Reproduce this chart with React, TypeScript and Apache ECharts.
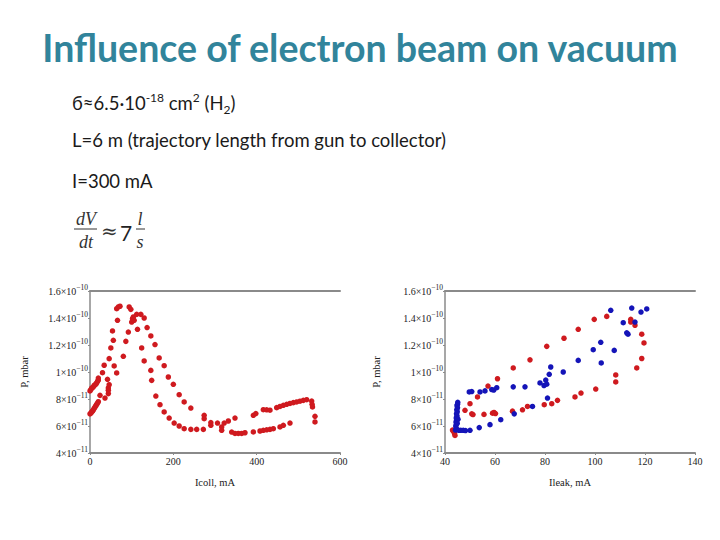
import React, { useEffect, useRef } from "react";
import * as echarts from "echarts";

const titleText = "Influence of electron beam on vacuum";
const lineL = "L=6 m (trajectory length from gun to collector)";
const lineI = "I=300 mA";

const yTicks = [4, 6, 8, 10, 12, 14, 16];
const yTickMantissa = ["4", "6", "8", "1", "1.2", "1.4", "1.6"];
const yTickExponent = ["−11", "−11", "−11", "−10", "−10", "−10", "−10"];
const leftXTicks = [0, 200, 400, 600];
const rightXTicks = [40, 60, 80, 100, 120, 140];

// pressure in units of 1e-11 mbar
const icollPressure: number[][] = [
  [0, 8.6], [2, 8.7], [4, 8.8], [6, 8.85], [8, 8.9], [10, 9.0], [12, 9.05], [14, 9.1], [16, 9.2], [18, 9.3], [20, 9.4], [20, 9.55],
  [0, 6.9], [2, 6.95], [4, 7.05], [6, 7.1], [8, 7.2], [10, 7.3], [12, 7.4], [14, 7.5], [16, 7.6], [18, 7.7], [20, 7.8],
  [24, 8.27], [36, 8.07], [30, 9.95], [34, 10.5], [44, 8.4], [44, 8.64], [44, 8.82], [46, 9.06], [42, 9.46], [46, 10.99],
  [50, 11.78], [56, 12.35], [54, 13.04], [58, 10.45], [64, 9.93], [66, 13.83], [64, 14.69], [68, 14.82], [72, 14.87],
  [80, 11.16], [86, 12.27], [92, 12.96], [94, 14.82], [98, 14.64], [100, 13.7], [102, 13.95], [104, 14.08], [106, 13.83],
  [112, 14.27], [114, 13.16], [122, 14.27], [124, 11.78], [130, 14.0], [130, 10.82], [137, 13.29], [146, 12.67],
  [146, 10.12], [148, 9.38], [156, 12.03], [158, 8.22], [166, 11.04], [168, 7.58], [178, 10.47], [178, 7.04],
  [188, 9.63], [190, 6.59], [200, 9.09], [202, 6.22], [214, 8.32], [214, 6.0], [226, 7.78], [226, 5.8], [242, 7.33],
  [242, 5.75], [256, 5.75], [272, 5.75], [274, 6.79], [274, 6.54], [290, 6.05], [290, 6.25], [306, 6.22], [316, 5.93],
  [316, 5.68], [322, 6.22], [332, 6.37], [348, 6.59],
  [340, 5.55], [348, 5.45], [356, 5.45], [364, 5.45], [372, 5.5], [392, 5.56], [408, 5.63], [416, 5.68], [424, 5.72],
  [432, 5.75], [440, 5.8], [456, 5.93], [464, 6.05], [480, 6.22],
  [392, 6.79], [398, 6.92], [416, 7.21], [424, 7.2], [432, 7.17], [448, 7.36], [456, 7.45], [464, 7.53], [472, 7.61],
  [480, 7.67], [488, 7.73], [496, 7.78], [504, 7.84], [512, 7.9], [520, 7.95], [532, 7.85], [533, 7.61], [534, 7.41],
  [540, 6.72], [540, 6.3],
];

const ileakRed: number[][] = [
  [43.3, 5.63], [43.8, 5.45], [44, 5.3], [43, 5.7], [48, 7.16], [50, 7.65], [50.7, 6.9], [51.2, 6.85], [53, 8.15],
  [55.6, 6.86], [57.2, 8.96], [59, 6.95], [59.6, 7.0], [60.2, 6.92], [61, 9.5], [67, 7.1], [67.3, 10.3], [71, 7.2],
  [73, 7.45], [74, 10.9], [79.7, 7.58], [80.7, 11.9], [82.7, 7.65], [85, 7.9], [87.6, 12.5], [92, 8.15], [93.3, 13.16],
  [94.4, 8.44], [99.7, 13.9], [100.3, 8.74], [104.7, 14.12], [108.3, 9.26], [108.3, 9.78], [114.3, 13.9], [114.3, 13.7],
  [116, 13.46], [118.7, 12.8], [119.6, 12.15], [118.7, 11.0], [116.7, 10.3],
];

const ileakBlue: number[][] = [
  [44.2, 5.7], [44.5, 5.85], [44.3, 6.0], [44.6, 6.15], [44.4, 6.3], [44.7, 6.45], [44.5, 6.6], [44.8, 6.75],
  [44.6, 6.9], [44.9, 7.05], [44.7, 7.2], [45, 7.35], [44.8, 7.5], [45, 7.62], [45.1, 7.75], [44.9, 6.2], [45.2, 6.5],
  [45.5, 5.68], [46.3, 5.68], [47.3, 5.68], [48.2, 5.66], [50, 5.68], [53.7, 5.88], [58, 6.1], [62.3, 6.47], [67.7, 6.9],
  [49.7, 8.52], [50.7, 8.55], [54, 8.52], [56, 8.6], [58.7, 8.7], [59.5, 8.66], [60.7, 8.84], [67.3, 8.9], [72, 8.9],
  [75, 7.45], [78, 9.19], [79.6, 9.0], [80.3, 9.4], [80.7, 9.1], [81.7, 9.83], [82.3, 10.37], [87.3, 10.0], [81, 8.07],
  [93.3, 10.86], [99.3, 11.65], [102.3, 12.2], [102.5, 10.67], [107.7, 11.6], [106.3, 14.57], [111.3, 13.65],
  [112.7, 12.9], [113.2, 12.8], [114.7, 14.74], [116, 13.7], [118.4, 14.44], [120.7, 14.67],
];

const RED = "#cf1a1f";
const BLUE = "#1414b8";
const AXIS = "#8a8a8a";
const SERIF = "'Liberation Serif', 'DejaVu Serif', serif";
const SANS = "Lato, 'Open Sans', sans-serif";

function tickLabel(v: number): string {
  const i = yTicks.indexOf(Math.round(v));
  return i >= 0 ? `{b|${yTickMantissa[i]}×10}{s|${yTickExponent[i]}}` : "";
}

function makeX(idx: number, min: number, max: number, interval: number, name: string) {
  return [
    {
      type: "value", gridIndex: idx, min, max, interval, position: "bottom",
      name, nameLocation: "middle", nameGap: 24,
      nameTextStyle: { fontFamily: SERIF, fontSize: 10.5, color: "#222" },
      axisLine: { show: true, lineStyle: { color: AXIS, width: 2 } },
      axisTick: { show: true, inside: false, length: 2, lineStyle: { color: AXIS } },
      axisLabel: { fontFamily: SERIF, fontSize: 10, color: "#222", margin: 3 },
      splitLine: { show: false },
    },
    {
      type: "value", gridIndex: idx, min, max, interval, position: "top",
      axisLine: { show: true, onZero: false, lineStyle: { color: AXIS, width: 2 } },
      axisTick: { show: false }, axisLabel: { show: false }, splitLine: { show: false },
    },
  ];
}

function makeY(idx: number, gap: number) {
  return {
    type: "value", gridIndex: idx, min: 4, max: 16, interval: 2,
    name: "P, mbar", nameLocation: "middle", nameGap: gap, nameRotate: 90,
    nameTextStyle: { fontFamily: SERIF, fontSize: 10.5, color: "#222" },
    axisLine: { show: true, lineStyle: { color: AXIS, width: 1.5 } },
    axisTick: { show: true, length: 2, lineStyle: { color: AXIS } },
    axisLabel: {
      fontFamily: SERIF, fontSize: 10, color: "#222", margin: 2, formatter: tickLabel,
      rich: {
        b: { fontFamily: SERIF, fontSize: 10, lineHeight: 15, color: "#222" },
        s: { fontFamily: SERIF, fontSize: 7.5, lineHeight: 8, verticalAlign: "top", color: "#222" },
      },
    },
    splitLine: { show: false },
  };
}

export default function App() {
  const ref = useRef<HTMLDivElement>(null);
  useEffect(() => {
    document.body.style.margin = "0";
    if (!ref.current) return;
    const chart = echarts.init(ref.current, undefined, { renderer: "svg" });
    const x0 = makeX(0, leftXTicks[0], leftXTicks[leftXTicks.length - 1], leftXTicks[1] - leftXTicks[0], "Icoll, mA");
    const x1 = makeX(1, rightXTicks[0], rightXTicks[rightXTicks.length - 1], rightXTicks[1] - rightXTicks[0], "Ileak, mA");
    const txt = "#1a1a1a";
    const mark = (data: number[][], color: string, xi: number, yi: number) => ({
      type: "scatter", xAxisIndex: xi, yAxisIndex: yi, data, symbolSize: 5.5,
      itemStyle: { color, opacity: 1 },
    });
    chart.setOption({
      animation: false,
      backgroundColor: "#ffffff",
      grid: [
        { left: 90, top: 291, width: 250, height: 162 },
        { left: 445, top: 291, width: 250, height: 162 },
      ],
      xAxis: [...x0, ...x1],
      yAxis: [makeY(0, 60), makeY(1, 63)],
      series: [
        mark(icollPressure, RED, 0, 0),
        mark(ileakRed, RED, 2, 1),
        mark(ileakBlue, BLUE, 2, 1),
      ],
      graphic: [
        {
          type: "text", x: 360, y: 47,
          style: { text: titleText, fill: "#31849b", font: `bold 37.5px ${SANS}`, textAlign: "center", textVerticalAlign: "middle" },
        },
        {
          type: "text", x: 72, y: 91,
          style: {
            text: "{a|б≈6.5·10}{s|-18}{a| cm}{s|2}{a| (H}{u|2}{a|)}",
            font: `18.5px ${SANS}`, fill: txt,
            rich: {
              a: { fontFamily: SANS, fontSize: 18.5, lineHeight: 24, color: txt },
              s: { fontFamily: SANS, fontSize: 12, lineHeight: 13, verticalAlign: "top", color: txt },
              u: { fontFamily: SANS, fontSize: 12, lineHeight: 13, verticalAlign: "bottom", color: txt },
            },
          },
        },
        {
          type: "text", x: 72, y: 140,
          style: { text: lineL, font: `18.5px ${SANS}`, fill: txt, textVerticalAlign: "middle" },
        },
        {
          type: "text", x: 72, y: 181,
          style: { text: lineI, font: `18.5px ${SANS}`, fill: txt, textVerticalAlign: "middle" },
        },
        { type: "text", x: 86, y: 219, style: { text: "dV", font: "italic 18px 'Liberation Serif', serif", fill: "#333", textAlign: "center", textVerticalAlign: "middle" } },
        { type: "line", shape: { x1: 74, y1: 229, x2: 97, y2: 229 }, style: { stroke: "#333", lineWidth: 1 } },
        { type: "text", x: 86, y: 242, style: { text: "dt", font: "italic 18px 'Liberation Serif', serif", fill: "#333", textAlign: "center", textVerticalAlign: "middle" } },
        { type: "text", x: 101, y: 231, style: { text: "≈", font: "20px 'DejaVu Serif', serif", fill: "#333", textVerticalAlign: "middle" } },
        { type: "text", x: 120, y: 232, style: { text: "7", font: `21px ${SANS}`, fill: "#222", textVerticalAlign: "middle" } },
        { type: "text", x: 140, y: 219, style: { text: "l", font: "italic 18px 'Liberation Serif', serif", fill: "#333", textAlign: "center", textVerticalAlign: "middle" } },
        { type: "line", shape: { x1: 136, y1: 229, x2: 145, y2: 229 }, style: { stroke: "#333", lineWidth: 1 } },
        { type: "text", x: 140, y: 242, style: { text: "s", font: "italic 18px 'Liberation Serif', serif", fill: "#333", textAlign: "center", textVerticalAlign: "middle" } },
      ],
    });
    return () => chart.dispose();
  }, []);
  return <div ref={ref} style={{ width: 720, height: 540 }} />;
}
